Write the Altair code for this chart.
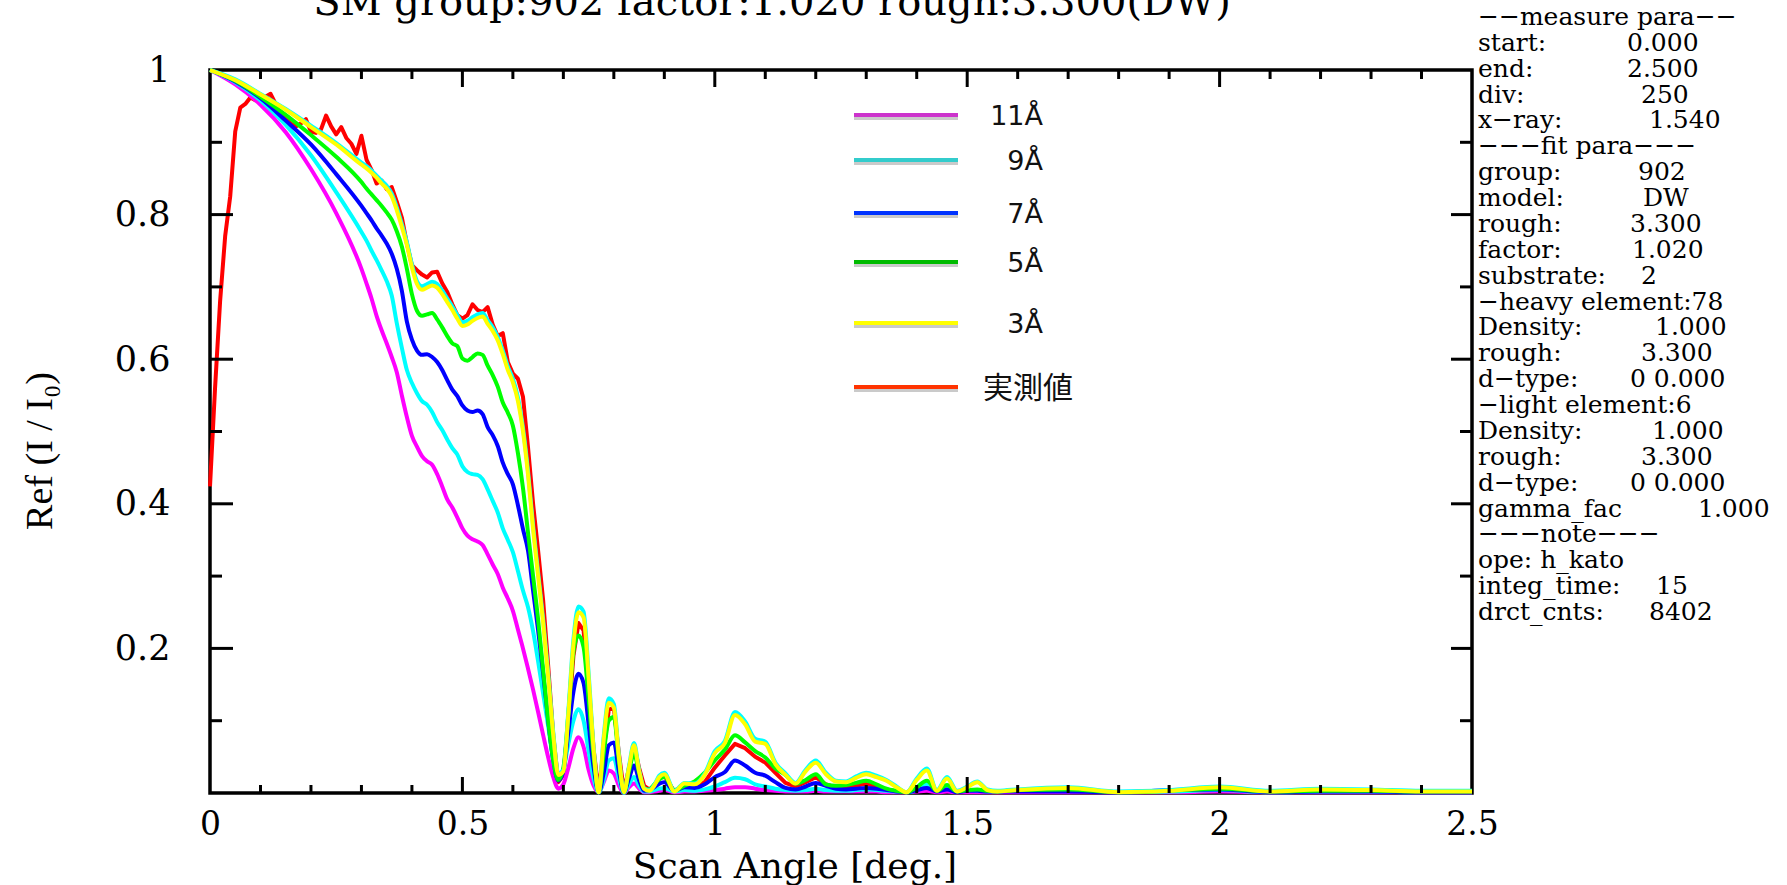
import altair as alt
import pandas as pd

# ---------------- data ----------------
MODEL_X = [0.00, 0.05, 0.10, 0.15, 0.20, 0.25, 0.30,
           0.31, 0.32, 0.33, 0.34, 0.35, 0.36, 0.37, 0.38, 0.39, 0.40,
           0.41, 0.42, 0.43, 0.44, 0.45, 0.46, 0.47, 0.48, 0.49, 0.50,
           0.51, 0.52, 0.53, 0.54, 0.55, 0.56, 0.57, 0.58, 0.59, 0.60,
           0.61, 0.62, 0.63, 0.64, 0.65, 0.66, 0.67, 0.68, 0.69, 0.70,
           0.71, 0.72, 0.73, 0.74, 0.75, 0.76, 0.77, 0.78, 0.79, 0.80,
           0.81, 0.82, 0.83, 0.84, 0.85, 0.86, 0.87, 0.88, 0.89, 0.90,
           0.92, 0.94, 0.96, 0.98, 1.00, 1.02, 1.04, 1.06, 1.08, 1.10,
           1.12, 1.14, 1.16, 1.18, 1.20, 1.22, 1.24, 1.26, 1.28, 1.30,
           1.32, 1.34, 1.36, 1.38, 1.40, 1.42, 1.44, 1.46, 1.48, 1.50,
           1.52, 1.54, 1.56, 1.58, 1.60,
           1.70, 1.80, 1.90, 2.00, 2.10, 2.20, 2.30, 2.40, 2.50]

REF_11A = [1.000, 0.980, 0.952, 0.914, 0.863, 0.802, 0.725,
           0.705, 0.684, 0.660, 0.640, 0.622, 0.603, 0.582, 0.550, 0.520, 0.494,
           0.479, 0.466, 0.459, 0.454, 0.441, 0.424, 0.406, 0.395, 0.381, 0.366,
           0.356, 0.351, 0.348, 0.343, 0.330, 0.316, 0.303, 0.284, 0.269, 0.252,
           0.226, 0.200, 0.172, 0.143, 0.112, 0.080, 0.049, 0.022, 0.006, 0.012,
           0.035, 0.062, 0.077, 0.064, 0.032, 0.010, 0.001, 0.015, 0.031, 0.027,
           0.010, 0.000, 0.008, 0.013, 0.006, 0.001, 0.001, 0.002, 0.003, 0.004,
           0.001, 0.002, 0.002, 0.003, 0.004, 0.006, 0.008, 0.008, 0.006, 0.004,
           0.003, 0.002, 0.002, 0.002, 0.003, 0.002, 0.002, 0.002, 0.002, 0.002,
           0.002, 0.001, 0.001, 0.001, 0.002, 0.003, 0.001, 0.002, 0.001, 0.001,
           0.001, 0.001, 0.001, 0.001, 0.001,
           0.001, 0.001, 0.001, 0.002, 0.001, 0.001, 0.001, 0.001, 0.001]

REF_9A = [1.000, 0.983, 0.958, 0.924, 0.882, 0.831, 0.776,
          0.764, 0.750, 0.737, 0.723, 0.708, 0.688, 0.650, 0.616, 0.585, 0.567,
          0.553, 0.542, 0.537, 0.527, 0.513, 0.502, 0.489, 0.477, 0.468, 0.452,
          0.444, 0.441, 0.440, 0.434, 0.420, 0.404, 0.388, 0.366, 0.350, 0.333,
          0.307, 0.280, 0.257, 0.224, 0.182, 0.137, 0.092, 0.045, 0.018, 0.032,
          0.068, 0.100, 0.116, 0.100, 0.058, 0.020, 0.001, 0.018, 0.045, 0.048,
          0.020, 0.000, 0.012, 0.022, 0.010, 0.002, 0.002, 0.004, 0.006, 0.007,
          0.002, 0.004, 0.003, 0.005, 0.009, 0.015, 0.021, 0.019, 0.012, 0.009,
          0.006, 0.004, 0.003, 0.004, 0.006, 0.004, 0.003, 0.003, 0.004, 0.005,
          0.004, 0.003, 0.002, 0.001, 0.004, 0.012, 0.004, 0.006, 0.002, 0.004,
          0.003, 0.002, 0.002, 0.003, 0.003,
          0.004, 0.001, 0.002, 0.004, 0.001, 0.002, 0.002, 0.001, 0.001]

REF_7A = [1.000, 0.984, 0.961, 0.930, 0.897, 0.856, 0.812,
          0.802, 0.792, 0.781, 0.771, 0.760, 0.746, 0.725, 0.695, 0.652, 0.627,
          0.612, 0.606, 0.607, 0.603, 0.596, 0.585, 0.571, 0.558, 0.549, 0.536,
          0.529, 0.527, 0.529, 0.524, 0.506, 0.495, 0.480, 0.457, 0.441, 0.427,
          0.398, 0.365, 0.335, 0.280, 0.225, 0.165, 0.100, 0.045, 0.017, 0.030,
          0.085, 0.140, 0.165, 0.152, 0.095, 0.035, 0.001, 0.028, 0.066, 0.070,
          0.030, 0.001, 0.020, 0.038, 0.018, 0.003, 0.004, 0.008, 0.013, 0.015,
          0.003, 0.008, 0.007, 0.012, 0.022, 0.029, 0.045, 0.038, 0.028, 0.024,
          0.015, 0.007, 0.005, 0.009, 0.014, 0.010, 0.006, 0.005, 0.006, 0.007,
          0.006, 0.004, 0.002, 0.001, 0.004, 0.007, 0.002, 0.005, 0.001, 0.003,
          0.003, 0.002, 0.002, 0.002, 0.002,
          0.002, 0.001, 0.004, 0.005, 0.001, 0.002, 0.002, 0.001, 0.001]

REF_5A = [1.000, 0.985, 0.963, 0.938, 0.910, 0.880, 0.845,
          0.836, 0.828, 0.820, 0.812, 0.803, 0.793, 0.777, 0.756, 0.725, 0.690,
          0.667, 0.660, 0.662, 0.664, 0.655, 0.644, 0.632, 0.622, 0.618, 0.601,
          0.598, 0.603, 0.608, 0.606, 0.591, 0.578, 0.562, 0.540, 0.526, 0.508,
          0.470, 0.422, 0.360, 0.300, 0.240, 0.170, 0.100, 0.045, 0.018, 0.035,
          0.110, 0.195, 0.218, 0.202, 0.130, 0.050, 0.001, 0.055, 0.100, 0.105,
          0.045, 0.001, 0.030, 0.054, 0.028, 0.006, 0.005, 0.012, 0.019, 0.022,
          0.004, 0.010, 0.016, 0.028, 0.045, 0.060, 0.080, 0.070, 0.058, 0.049,
          0.034, 0.025, 0.013, 0.018, 0.026, 0.012, 0.010, 0.011, 0.014, 0.017,
          0.012, 0.006, 0.003, 0.001, 0.008, 0.017, 0.003, 0.011, 0.002, 0.004,
          0.005, 0.003, 0.002, 0.003, 0.004,
          0.005, 0.001, 0.003, 0.006, 0.002, 0.003, 0.003, 0.002, 0.002]

REF_3A = [1.000, 0.986, 0.966, 0.945, 0.921, 0.897, 0.869,
          0.864, 0.858, 0.851, 0.843, 0.836, 0.825, 0.806, 0.783, 0.758, 0.727,
          0.704, 0.696, 0.699, 0.702, 0.699, 0.690, 0.679, 0.668, 0.656, 0.646,
          0.648, 0.653, 0.657, 0.659, 0.649, 0.639, 0.626, 0.607, 0.585, 0.568,
          0.542, 0.500, 0.440, 0.365, 0.300, 0.235, 0.160, 0.080, 0.025, 0.030,
          0.110, 0.206, 0.250, 0.243, 0.160, 0.060, 0.001, 0.075, 0.125, 0.118,
          0.050, 0.001, 0.035, 0.066, 0.030, 0.006, 0.003, 0.010, 0.022, 0.026,
          0.002, 0.013, 0.012, 0.025, 0.055, 0.069, 0.108, 0.095, 0.071, 0.068,
          0.040, 0.025, 0.013, 0.030, 0.042, 0.026, 0.016, 0.015, 0.021, 0.026,
          0.022, 0.017, 0.008, 0.001, 0.018, 0.031, 0.003, 0.020, 0.002, 0.008,
          0.015, 0.004, 0.002, 0.003, 0.004,
          0.007, 0.001, 0.003, 0.008, 0.002, 0.005, 0.004, 0.002, 0.002]

# unlabelled cyan curve lying just under the 3A curve
REF_FIT = [1.000, 0.987, 0.967, 0.946, 0.923, 0.899, 0.872,
           0.867, 0.861, 0.854, 0.847, 0.840, 0.829, 0.810, 0.787, 0.762, 0.731,
           0.708, 0.701, 0.704, 0.707, 0.704, 0.695, 0.684, 0.673, 0.661, 0.651,
           0.653, 0.658, 0.662, 0.664, 0.654, 0.644, 0.631, 0.612, 0.590, 0.573,
           0.547, 0.505, 0.445, 0.370, 0.305, 0.240, 0.165, 0.084, 0.027, 0.032,
           0.115, 0.213, 0.258, 0.251, 0.166, 0.063, 0.001, 0.079, 0.131, 0.123,
           0.053, 0.001, 0.037, 0.069, 0.032, 0.007, 0.004, 0.011, 0.024, 0.028,
           0.003, 0.014, 0.013, 0.027, 0.058, 0.072, 0.112, 0.099, 0.075, 0.071,
           0.042, 0.027, 0.014, 0.032, 0.045, 0.028, 0.017, 0.016, 0.023, 0.028,
           0.024, 0.018, 0.009, 0.001, 0.020, 0.034, 0.004, 0.022, 0.003, 0.009,
           0.016, 0.005, 0.003, 0.004, 0.005,
           0.008, 0.002, 0.004, 0.009, 0.003, 0.006, 0.005, 0.003, 0.003]

MEAS_X = [0.00, 0.01, 0.02, 0.03, 0.04, 0.05, 0.06, 0.07, 0.08, 0.09,
          0.10, 0.11, 0.12, 0.13, 0.14, 0.15, 0.16, 0.17, 0.18, 0.19,
          0.20, 0.21, 0.22, 0.23, 0.24, 0.25, 0.26, 0.27, 0.28, 0.29,
          0.30, 0.31, 0.32, 0.33, 0.34, 0.35, 0.36, 0.37, 0.38, 0.39,
          0.40, 0.41, 0.42, 0.43, 0.44, 0.45, 0.46, 0.47, 0.48, 0.49,
          0.50, 0.51, 0.52, 0.53, 0.54, 0.55, 0.56, 0.57, 0.58, 0.59,
          0.60, 0.61, 0.62, 0.63, 0.64, 0.65, 0.66, 0.67, 0.68, 0.69,
          0.70, 0.71, 0.72, 0.73, 0.74, 0.75, 0.76, 0.77, 0.78, 0.79,
          0.80, 0.81, 0.82, 0.83, 0.84, 0.85, 0.86, 0.87, 0.88, 0.89,
          0.90,
          0.92, 0.94, 0.96, 0.98, 1.00, 1.02, 1.04, 1.06, 1.08, 1.10,
          1.12, 1.14, 1.16, 1.18, 1.20, 1.22, 1.24, 1.26, 1.28, 1.30,
          1.32, 1.34, 1.36, 1.38, 1.40, 1.42, 1.44, 1.46, 1.48, 1.50,
          1.52, 1.54, 1.56, 1.58, 1.60,
          1.70, 1.80, 1.90, 2.00, 2.10, 2.20, 2.30, 2.40, 2.50]

REF_MEAS = [0.424, 0.560, 0.680, 0.770, 0.825, 0.915, 0.948, 0.953, 0.962, 0.958,
            0.960, 0.963, 0.967, 0.953, 0.938, 0.932, 0.926, 0.922, 0.926, 0.932,
            0.915, 0.913, 0.918, 0.937, 0.922, 0.911, 0.921, 0.906, 0.898, 0.884,
            0.909, 0.876, 0.862, 0.843, 0.847, 0.835, 0.838, 0.818, 0.796, 0.760,
            0.730, 0.723, 0.717, 0.713, 0.720, 0.721, 0.705, 0.693, 0.676, 0.661,
            0.656, 0.661, 0.676, 0.668, 0.665, 0.672, 0.648, 0.632, 0.636, 0.596,
            0.580, 0.573, 0.548, 0.478, 0.400, 0.335, 0.266, 0.175, 0.080, 0.015,
            0.025, 0.100, 0.190, 0.235, 0.225, 0.150, 0.060, 0.002, 0.060, 0.115,
            0.118, 0.055, 0.002, 0.035, 0.066, 0.035, 0.010, 0.005, 0.010, 0.020,
            0.024,
            0.002, 0.012, 0.009, 0.015, 0.035, 0.052, 0.068, 0.062, 0.050, 0.042,
            0.028, 0.014, 0.009, 0.015, 0.022, 0.012, 0.008, 0.008, 0.010, 0.013,
            0.009, 0.005, 0.002, 0.001, 0.005, 0.010, 0.002, 0.006, 0.001, 0.003,
            0.004, 0.002, 0.001, 0.002, 0.002,
            0.003, 0.001, 0.002, 0.004, 0.001, 0.002, 0.002, 0.001, 0.001]

X_LABELS = [0, 0.5, 1, 1.5, 2, 2.5]
Y_LABELS = [0.2, 0.4, 0.6, 0.8, 1]
X_MAJOR = [0.5, 1.0, 1.5, 2.0]
X_MINOR = [0.1, 0.2, 0.3, 0.4, 0.6, 0.7, 0.8, 0.9, 1.1, 1.2, 1.3, 1.4,
           1.6, 1.7, 1.8, 1.9, 2.1, 2.2, 2.3, 2.4]
Y_MAJOR = [0.2, 0.4, 0.6, 0.8]
Y_MINOR = [0.1, 0.3, 0.5, 0.7, 0.9]

LEG_LABELS = ["11Å", "9Å", "7Å", "5Å", "3Å", "実測値"]
LEG_COLORS = ["#CC33CC", "#33CCCC", "#0033FF", "#00BB00", "#FFFF00", "#FF3300"]

TITLE = "SM group:902 factor:1.020 rough:3.300(DW)"
X_TITLE = "Scan Angle [deg.]"
Y_TITLE = "Ref (I / I\u2080)"

PANEL_LABELS = ["\u2212\u2212measure para\u2212\u2212", "start:", "end:", "div:", "x\u2212ray:",
                "\u2212\u2212\u2212fit para\u2212\u2212\u2212", "group:", "model:", "rough:", "factor:",
                "substrate:", "\u2212heavy element:78", "Density:", "rough:", "d\u2212type:",
                "\u2212light element:6", "Density:", "rough:", "d\u2212type:", "gamma_fac",
                "\u2212\u2212\u2212note\u2212\u2212\u2212", "ope: h_kato", "integ_time:", "drct_cnts:"]
PANEL_VALUES = ["", "0.000", "2.500", "250", "1.540", "", "902", "DW", "3.300", "1.020",
                "2", "", "1.000", "3.300", "0 0.000", "", "1.000", "3.300", "0 0.000", "1.000",
                "", "", "15", "8402"]

# ---------------- layout / style ----------------
W, H = 1262, 723
SERIF = "DejaVu Serif"
LEG_Y_PX = [45, 90, 143, 192, 253, 317]
PANEL_VALUE_X_PX = [0, 1417, 1417, 1431, 1439, 0, 1428, 1433, 1420, 1422, 1431, 0,
                    1445, 1431, 1420, 0, 1442, 1431, 1420, 1488, 0, 0, 1446, 1439]
PANEL_TOP_PX, PANEL_STEP_PX, PANEL_X_PX = -45, 25.87, 1268

XS = alt.Scale(domain=[0, 2.5], nice=False, zero=False)
YS = alt.Scale(domain=[0, 1], nice=False, zero=False)

XAX = alt.Axis(values=X_LABELS, labelExpr="format(datum.value, '~g')", labelFont=SERIF,
               labelFontSize=33, labelColor="black", labelPadding=15, ticks=False, tickSize=0,
               domain=False, grid=False, title=None, labelFlush=False, labelOverlap=False,
               labelBound=False)
YAX = alt.Axis(values=Y_LABELS,
               labelExpr="datum.value == 1 ? '1' : format(datum.value, '.1f')",
               labelFont=SERIF, labelFontSize=35, labelColor="black", labelPadding=40,
               ticks=False, tickSize=0, domain=False, grid=False, title=None,
               labelFlush=False, labelOverlap=False, labelBound=False)


def xenc(field="angle"):
    return alt.X(f"{field}:Q", scale=XS, axis=XAX)


def yenc(field="ref"):
    return alt.Y(f"{field}:Q", scale=YS, axis=YAX)


def curve(xs, ys, color, interp="monotone"):
    n = min(len(xs), len(ys))
    df = pd.DataFrame({"angle": xs[:n], "ref": ys[:n]})
    return alt.Chart(df).mark_line(color=color, strokeWidth=4, interpolate=interp,
                                   strokeJoin="round").encode(x=xenc(), y=yenc())


lines = [
    curve(MEAS_X, REF_MEAS, "#FF0000", "linear"),
    curve(MODEL_X, REF_11A, "#FF00FF"),
    curve(MODEL_X, REF_9A, "#00FFFF"),
    curve(MODEL_X, REF_7A, "#0000FF"),
    curve(MODEL_X, REF_5A, "#00FF00"),
    curve(MODEL_X, REF_FIT, "#00FFFF"),
    curve(MODEL_X, REF_3A, "#FFFF00"),
]


def xticks(vals, y0, y1):
    return alt.Chart(pd.DataFrame({"angle": vals})).mark_rule(
        color="black", strokeWidth=3).encode(x=xenc(), y=alt.value(y0), y2=alt.value(y1))


def yticks(vals, x0, x1):
    return alt.Chart(pd.DataFrame({"ref": vals})).mark_rule(
        color="black", strokeWidth=3).encode(y=yenc(), x=alt.value(x0), x2=alt.value(x1))


ticks = [
    xticks(X_MINOR, H, H - 8), xticks(X_MAJOR, H, H - 16),
    xticks(X_MINOR, 0, 9), xticks(X_MAJOR, 0, 17),
    yticks(Y_MINOR, 0, 12), yticks(Y_MAJOR, 0, 23),
    yticks(Y_MINOR, W, W - 12), yticks(Y_MAJOR, W, W - 21),
]

# legend (drawn by hand, as in the reference)
leg_df = pd.DataFrame({"label": LEG_LABELS, "color": LEG_COLORS,
                       "ref": [1 - p / H for p in LEG_Y_PX]})
leg_shadow = alt.Chart(leg_df).mark_rule(color="#8a8a8a", opacity=0.45, strokeWidth=4,
                                         yOffset=3).encode(
    x=alt.value(644), x2=alt.value(748), y=yenc())
leg_lines = alt.Chart(leg_df).mark_rule(strokeWidth=4).encode(
    x=alt.value(644), x2=alt.value(748), y=yenc(), color=alt.Color("color:N", scale=None))
leg_num = alt.Chart(leg_df.iloc[:5]).mark_text(
    align="right", baseline="middle", font="DejaVu Sans", fontSize=27, dy=2,
    color="#111111").encode(x=alt.value(833), y=yenc(), text="label:N")
leg_jp = alt.Chart(leg_df.iloc[5:]).mark_text(
    align="left", baseline="middle", font="Noto Sans CJK JP", fontSize=30, dy=2,
    color="#111111").encode(x=alt.value(773), y=yenc(), text="label:N")

# parameter panel on the right
panel_y = [1 - (PANEL_TOP_PX + PANEL_STEP_PX * i) / H for i in range(len(PANEL_LABELS))]
panel_df = pd.DataFrame({"label": PANEL_LABELS, "value": PANEL_VALUES, "ref": panel_y,
                         "vx": [p / W * 2.5 for p in PANEL_VALUE_X_PX]})
panel_lab = alt.Chart(panel_df).mark_text(
    align="left", baseline="alphabetic", font=SERIF, fontSize=25, color="black").encode(
    x=alt.value(PANEL_X_PX), y=yenc(), text="label:N")
panel_val = alt.Chart(panel_df[panel_df["value"] != ""]).mark_text(
    align="left", baseline="alphabetic", font=SERIF, fontSize=25, color="black").encode(
    x=xenc("vx"), y=yenc(), text="value:N")

one = pd.DataFrame({"t": [TITLE], "xt": [X_TITLE], "yt": [Y_TITLE]})
title = alt.Chart(one).mark_text(align="center", baseline="alphabetic", font=SERIF,
                                 fontSize=40, color="black").encode(
    x=alt.value(562), y=alt.value(-55), text="t:N")
xtitle = alt.Chart(one).mark_text(align="center", baseline="alphabetic", font=SERIF,
                                  fontSize=36, color="black").encode(
    x=alt.value(585), y=alt.value(808), text="xt:N")
ytitle = alt.Chart(one).mark_text(align="center", baseline="alphabetic",
                                  font="Liberation Serif", fontSize=38, angle=270,
                                  color="black").encode(
    x=alt.value(-158), y=alt.value(381), text="yt:N")

chart = alt.layer(
    *lines, *ticks, leg_shadow, leg_lines, leg_num, leg_jp, panel_lab, panel_val,
    title, xtitle, ytitle
).properties(
    width=W, height=H,
    autosize=alt.AutoSizeParams(type="none"),
    padding={"left": 210, "top": 70, "right": 315, "bottom": 92},
    background="white",
).configure_view(stroke="black", strokeWidth=3.5)

chart.save("out.html", embed_options={"renderer": "svg", "actions": False})
